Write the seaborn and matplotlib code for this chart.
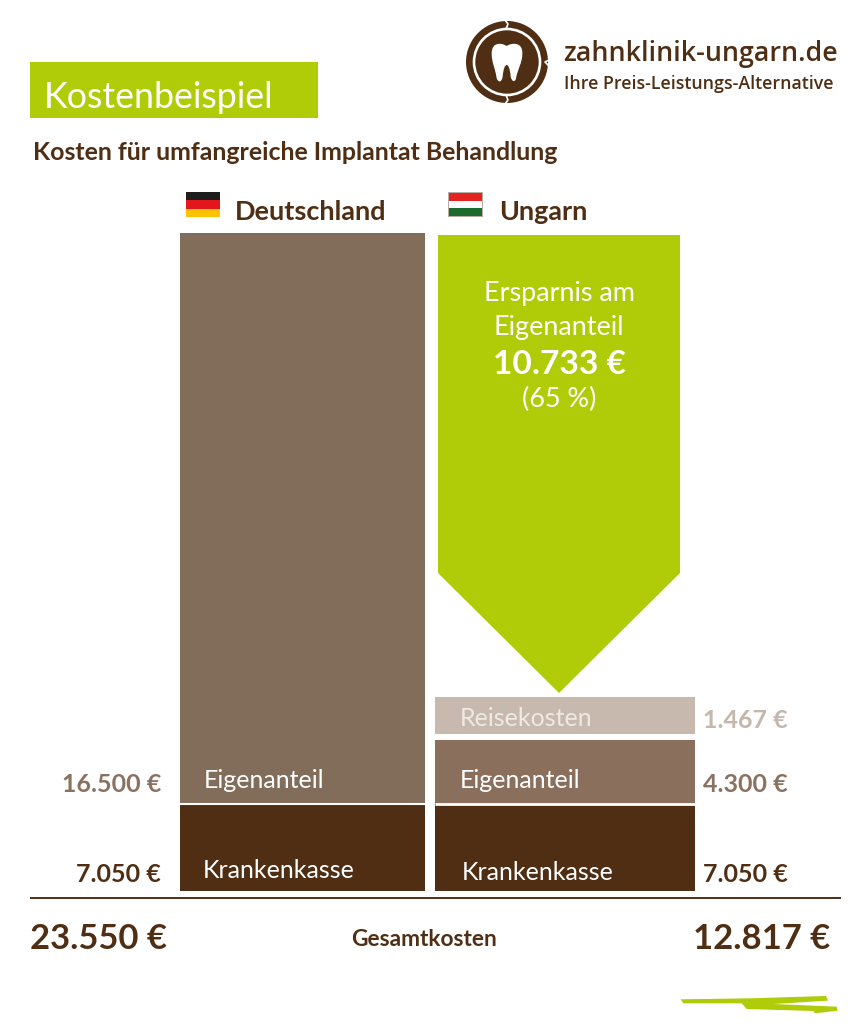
import numpy as np
import pandas as pd
import seaborn as sns
import matplotlib
matplotlib.use("Agg")
import matplotlib.pyplot as plt
from matplotlib.patches import Circle, Rectangle, Polygon, PathPatch
from matplotlib.path import Path

# ---------- data ----------
countries = ["Deutschland", "Ungarn"]
kranken = [7050, 7050]
eigen = [16500, 4300]
reise = [0, 1467]
totals = [23550, 12817]
saving = 10733
saving_pct = 65

# ---------- style ----------
W, H = 866, 1024
BROWN = "#4f2e13"
MID_DE = "#826c5a"
MID_HU = "#8a6f5c"
LIGHT = "#c7b9ae"
LABEL_MID = "#8b7260"
LABEL_LIGHT = "#c4b7ac"
GREEN = "#b0cb08"
FONT = "Lato"


def fmt(v):
    return f"{v:,}".replace(",", ".") + " €"


sns.set_theme(style="white")
plt.rcParams["font.family"] = [FONT, "DejaVu Sans"]
fig = plt.figure(figsize=(W / 100, H / 100), dpi=100, facecolor="white")

# ---------- bar axes: y axis is a broken (non-linear) value scale as in the source ----------
BASE_PX, TOP_PX = 891, 233
ax = fig.add_axes([0, (H - BASE_PX) / H, 1, (BASE_PX - TOP_PX) / H])
df = pd.DataFrame({"land": countries, "kranken": kranken, "eigen": eigen, "reise": reise})
df["bottom_eigen"] = df["kranken"]
df["bottom_reise"] = df["kranken"] + df["eigen"]

bar_widths = {"Deutschland": 245 / 262.5, "Ungarn": 260 / 262.5}
seg_colors = {"Deutschland": (BROWN, MID_DE, LIGHT), "Ungarn": (BROWN, MID_HU, LIGHT)}
for land in countries:
    row = df[df.land == land]
    w = bar_widths[land]
    c = seg_colors[land]
    common = dict(x="land", order=countries, width=w, saturation=1, linewidth=0, ax=ax, errorbar=None)
    sns.barplot(data=row, y="kranken", color=c[0], **common)
    sns.barplot(data=row, y="eigen", color=c[1], bottom=row["bottom_eigen"].iloc[0], **common)
    if row["reise"].iloc[0] > 0:
        sns.barplot(data=row, y="reise", color=c[2], bottom=row["bottom_reise"].iloc[0], **common)

v_nodes = np.array([0, kranken[1], kranken[1] + eigen[1], totals[1], totals[0]], float)
p_nodes = np.array([0, 87, 154, 194, BASE_PX - TOP_PX], float)


def fwd(v):
    return np.interp(v, v_nodes, p_nodes)


def inv(p):
    return np.interp(p, p_nodes, v_nodes)


ax.set_yscale("function", functions=(fwd, inv))
ax.set_ylim(0, totals[0])
ax.set_xlim((0 - 302.5) / 262.5, (W - 302.5) / 262.5)
ax.axis("off")


def vy(px):
    return inv(BASE_PX - px)


def cx(px):
    return (px - 302.5) / 262.5


# white separators between stacked segments
ax.hlines(kranken[0], cx(180), cx(425), color="white", lw=1.5)
ax.hlines(kranken[1], cx(435), cx(695), color="white", lw=2.0)
ax.hlines(kranken[1] + eigen[1], cx(435), cx(695), color="white", lw=4.3)

# saving arrow (spans from Hungarian total up to German total)
arrow_x = [438, 680, 680, 559, 438]
arrow_y = [235, 235, 573, 693, 573]
ax.add_patch(Polygon([(cx(a), vy(b)) for a, b in zip(arrow_x, arrow_y)], closed=True, fc=GREEN, ec="none", zorder=5))

# ---------- overlay in pixel coordinates ----------
ov = fig.add_axes([0, 0, 1, 1], facecolor="none")
ov.set_xlim(0, W)
ov.set_ylim(H, 0)
ov.axis("off")


def T(x, y, s, size, color=BROWN, ha="left", weight="normal"):
    ov.text(x, y + 2, s, fontsize=size * 0.72, color=color, ha=ha, va="center", fontweight=weight)


# header
ov.add_patch(Rectangle((30, 62), 288, 56, fc=GREEN, ec="none"))
T(44, 95, "Kostenbeispiel", 35.8, "white")
T(33, 151, "Kosten für umfangreiche Implantat Behandlung", 24.85, weight="bold")

# flags
for i, col in enumerate(["#1d1d1b", "#e3171b", "#fdc300"]):
    ov.add_patch(Rectangle((186, 192 + i * 8.33), 34, 8.4, fc=col, ec="none"))
ov.add_patch(Rectangle((448, 192), 35, 25, fc="#b9aca2", ec="none"))
for i, col in enumerate(["#e52320", "white", "#1a6b2c"]):
    ov.add_patch(Rectangle((449, 193 + i * 7.7), 33, 7.8, fc=col, ec="none"))
T(235, 210, countries[0], 27, weight="bold")
T(499, 210, countries[1], 27, weight="bold")

# arrow text
T(559, 292, "Ersparnis am", 27, "white", "center")
T(559, 325, "Eigenanteil", 27, "white", "center")
T(559, 363, fmt(saving), 33.5, "white", "center", "bold")
T(559, 397, f"({saving_pct} %)", 27, "white", "center")

# segment labels
T(204, 778, "Eigenanteil", 25, "white")
T(203, 868, "Krankenkasse", 25, "white")
T(460, 717, "Reisekosten", 25, "#efe9e4")
T(460, 779, "Eigenanteil", 25, "white")
T(462, 870, "Krankenkasse", 25, "white")

# values
T(161, 782, fmt(eigen[0]), 25, LABEL_MID, "right", "bold")
T(161, 873, fmt(kranken[0]), 25, BROWN, "right", "bold")
T(703, 718, fmt(reise[1]), 25, LABEL_LIGHT, "left", "bold")
T(703, 782, fmt(eigen[1]), 25, LABEL_MID, "left", "bold")
T(703, 872, fmt(kranken[1]), 25, BROWN, "left", "bold")

# baseline and totals
ov.plot([30, 841], [898, 898], color=BROWN, lw=1.4, solid_capstyle="butt")
T(30, 937, fmt(totals[0]), 34.7, BROWN, "left", "bold")
T(830, 937, fmt(totals[1]), 34.7, BROWN, "right", "bold")
T(424, 938, "Gesamtkosten", 22.8, BROWN, "center", "bold")

# logo
lc = (507, 62)
ov.add_patch(Circle(lc, 41, fc=BROWN, ec="none"))
ov.add_patch(Circle(lc, 33, fc="none", ec="white", lw=1.9))
for (x0, y0), (x1, y1), (x2, y2) in [
    ((505, 20), (508, 24), (506, 29)),
    ((549, 60), (545, 62), (549, 66)),
    ((505, 104), (508, 100), (506, 95)),
]:
    ov.plot([x0, x1, x2], [y0, y1, y2], color="white", lw=1.2)
zt = [(200, 138), (215, 128), (248, 125), (247, 160), (247, 190), (235, 200), (228, 235),
      (225, 248), (215, 245), (212, 230), (210, 205), (205, 195), (200, 195),
      (195, 195), (190, 205), (188, 230), (185, 248), (175, 248), (170, 235),
      (165, 200), (155, 190), (155, 160), (155, 125), (185, 128), (200, 138)]
verts = [(440 + a / 3, b / 3) for a, b in zt]
codes = [Path.MOVETO] + [Path.CURVE4] * (len(verts) - 1)
ov.add_patch(PathPatch(Path(verts, codes), fc="white", ec="none"))
ov.text(563, 54, "zahnklinik-ungarn.de", fontsize=26.7 * 0.72, color=BROWN, va="center", family="Open Sans", fontweight="semibold")
ov.text(564, 84, "Ihre Preis-Leistungs-Alternative", fontsize=17.8 * 0.72, color=BROWN, va="center", family="Open Sans", fontweight="semibold")

# green brush stroke
zs = [(242, 118), (450, 115), (678, 108), (684, 122), (520, 132), (710, 140), (713, 152),
      (645, 160), (640, 153), (440, 147), (425, 130), (250, 130)]
ov.add_patch(Polygon([(600 + a / 3, 960 + b / 3) for a, b in zs], closed=True, fc=GREEN, ec="none"))

fig.savefig("out.png", dpi=100, facecolor="white")
